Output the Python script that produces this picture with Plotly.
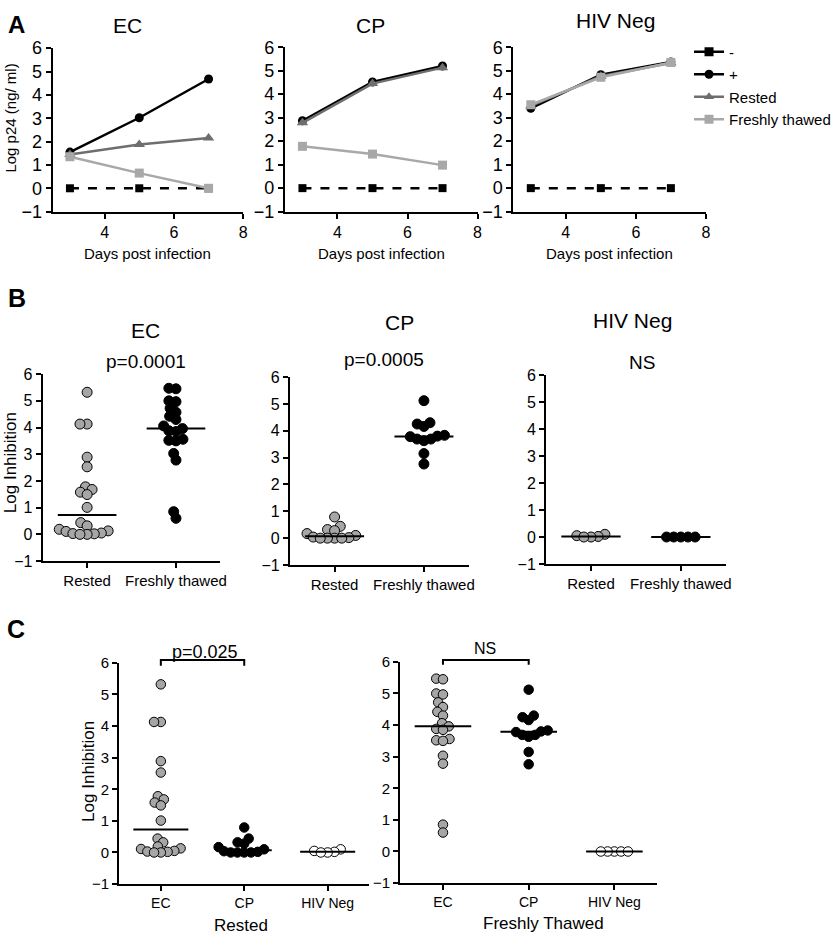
import numpy as np
import plotly.graph_objects as go

W, H = 837, 944
FONT = "Arial, Liberation Sans, sans-serif"

# panel A: log p24 (ng/ml) by day post infection
days = [3, 5, 7]
p24_ec_neg = [0, 0, 0]
p24_ec_pos = [1.55, 3.02, 4.68]
p24_ec_rested = [1.45, 1.87, 2.15]
p24_ec_thawed = [1.35, 0.65, 0.0]
p24_cp_neg = [0, 0, 0]
p24_cp_pos = [2.87, 4.52, 5.2]
p24_cp_rested = [2.78, 4.45, 5.13]
p24_cp_thawed = [1.78, 1.45, 0.98]
p24_hiv_neg = [0, 0, 0]
p24_hiv_pos = [3.4, 4.83, 5.37]
p24_hiv_rested = [3.5, 4.76, 5.33]
p24_hiv_thawed = [3.55, 4.72, 5.35]

# panels B and C: log inhibition per donor
inh_ec_rested = [5.32, 4.13, 4.13, 2.89, 2.53, 1.78, 1.68, 1.58, 1.49, 1.01,
                 0.44, 0.32, 0.19, 0.13, 0.11, 0.05, 0.03, 0.02, 0.0, 0.0]
inh_ec_thawed = [5.47, 5.45, 5.0, 4.97, 4.72, 4.57, 4.42, 4.3, 4.06, 3.96,
                 3.88, 3.85, 3.56, 3.52, 3.5, 3.03, 2.78, 0.85, 0.6]
inh_cp_rested = [0.79, 0.44, 0.32, 0.28, 0.17, 0.1, 0.04, 0.02, 0.0, 0.0, 0.0, 0.0]
inh_cp_thawed = [5.12, 4.3, 4.25, 4.16, 3.83, 3.8, 3.78, 3.69, 3.69, 3.63, 3.15, 2.76]
inh_neg_rested = [0.1, 0.05, 0.02, 0.0, 0.0]
inh_neg_thawed = [0.0, 0.0, 0.0, 0.0, 0.0]

treat_labels = ["Rested", "Freshly thawed"]
group_labels = ["EC", "CP", "HIV Neg"]

GRAY = "#a6a6a6"
DARK = "#6e6e6e"
LIGHT = "#a8a8a8"

# pixel boxes of the plot areas: left, right, top, bottom
boxes = {
    1: (53, 245, 39, 206), 2: (287, 481, 38, 206), 3: (517, 711, 38, 206),
    4: (43, 222, 372, 563), 5: (292, 472, 375, 567), 6: (550, 731, 373, 566),
    7: (120, 372, 667, 893), 8: (403, 662, 666, 892),
}


def ref(n):
    return ("x", "y") if n == 1 else (f"x{n}", f"y{n}")


def swarm(vals, sy, d):
    # simple beeswarm in pixel space (lowest values placed first), offsets in px
    vals = np.asarray(vals, float)
    offs = np.zeros(len(vals))
    placed = []
    for i in np.argsort(vals, kind="stable"):
        y = vals[i] * sy
        near = [(px, py) for px, py in placed if abs(py - y) < d]
        cands = [0.0]
        for px, py in near:
            dx = np.sqrt(d * d - (py - y) ** 2)
            cands += [px - dx, px + dx]
        cands.sort(key=lambda c: (round(abs(c), 3), c))
        for c in cands:
            if all((c - px) ** 2 + (y - py) ** 2 >= d * d - 1e-6 for px, py in near):
                offs[i] = c
                break
        placed.append((offs[i], y))
    return offs


fig = go.Figure()

# ---------- panel A
a_sets = [
    (1, p24_ec_neg, p24_ec_pos, p24_ec_rested, p24_ec_thawed),
    (2, p24_cp_neg, p24_cp_pos, p24_cp_rested, p24_cp_thawed),
    (3, p24_hiv_neg, p24_hiv_pos, p24_hiv_rested, p24_hiv_thawed),
]
for n, neg, pos, rest, thaw in a_sets:
    xa, ya = ref(n)
    styles = [
        (neg, "black", "square", 8, "dash"),
        (pos, "black", "circle", 9, "solid"),
        (rest, DARK, "triangle-up", 10, "solid"),
        (thaw, LIGHT, "square", 9, "solid"),
    ]
    for vals, col, sym, sz, dash in styles:
        fig.add_trace(go.Scatter(
            x=days, y=vals, mode="lines+markers", xaxis=xa, yaxis=ya,
            line=dict(color=col, width=2.5, dash=dash),
            marker=dict(color=col, symbol=sym, size=sz),
            showlegend=False, cliponaxis=False))

# legend entries (solid line samples as in the original)
for name, col, sym in [("-", "black", "square"), ("+", "black", "circle"),
                       ("Rested", DARK, "triangle-up"), ("Freshly thawed", LIGHT, "square")]:
    fig.add_trace(go.Scatter(
        x=[None], y=[None], mode="lines+markers", name=name,
        line=dict(color=col, width=2.5), marker=dict(color=col, symbol=sym, size=9)))


def dot_column(n, i, vals, fill, size):
    l, r, t, b = boxes[n]
    xa, ya = ref(n)
    ncat = 2 if n in (4, 5, 6) else 3
    px_cat = (r - l) / ncat
    sy = (b - t) / 7.0
    offs = swarm(vals, sy, size * 0.72)
    fig.add_trace(go.Scatter(
        x=i + offs / px_cat, y=vals, mode="markers", xaxis=xa, yaxis=ya,
        marker=dict(size=size, color=fill, line=dict(color="black", width=1)),
        showlegend=False, cliponaxis=False))
    med = float(np.median(vals))
    fig.add_trace(go.Scatter(
        x=[i - 0.33, i + 0.33], y=[med, med], mode="lines", xaxis=xa, yaxis=ya,
        line=dict(color="black", width=2), showlegend=False))


# ---------- panel B
dot_column(4, 0, inh_ec_rested, GRAY, 10)
dot_column(4, 1, inh_ec_thawed, "black", 10)
dot_column(5, 0, inh_cp_rested, GRAY, 10)
dot_column(5, 1, inh_cp_thawed, "black", 10)
dot_column(6, 0, inh_neg_rested, GRAY, 10)
dot_column(6, 1, inh_neg_thawed, "black", 10)

# ---------- panel C
dot_column(7, 0, inh_ec_rested, GRAY, 9.5)
dot_column(7, 1, inh_cp_rested, "black", 9.5)
dot_column(7, 2, inh_neg_rested, "white", 9.5)
dot_column(8, 0, inh_ec_thawed, GRAY, 9.5)
dot_column(8, 1, inh_cp_thawed, "black", 9.5)
dot_column(8, 2, inh_neg_thawed, "white", 9.5)

# ---------- axes
layout = {}
for n, (l, r, t, b) in boxes.items():
    xk = "xaxis" if n == 1 else f"xaxis{n}"
    yk = "yaxis" if n == 1 else f"yaxis{n}"
    xa, ya = ref(n)
    common = dict(showline=True, linecolor="black", linewidth=2, ticks="outside",
                  ticklen=5, tickwidth=2, tickcolor="black", showgrid=False,
                  zeroline=False, fixedrange=True)
    if n <= 3:
        xopt = dict(range=[2.5, 8], tickvals=[4, 6, 8], tickfont=dict(size=16))
        yfont = 18
    elif n <= 6:
        xopt = dict(range=[-0.5, 1.5], tickvals=[0, 1], ticktext=treat_labels,
                    tickfont=dict(size=15))
        yfont = 16
    else:
        xopt = dict(range=[-0.5, 2.5], tickvals=[0, 1, 2], ticktext=group_labels,
                    tickfont=dict(size=14))
        yfont = 15
    layout[xk] = dict(domain=[l / W, r / W], anchor=ya, **xopt, **common)
    layout[yk] = dict(domain=[1 - b / H, 1 - t / H], anchor=xa, range=[-1, 6],
                      dtick=1, tickfont=dict(size=yfont), **common)

annotations = []


def label(text, x, y, size, bold=False, angle=0):
    if bold:
        text = f"<b>{text}</b>"
    annotations.append(dict(text=text, x=x / W, y=1 - y / H, xref="paper", yref="paper",
                            xanchor="center", yanchor="middle", showarrow=False,
                            textangle=angle, font=dict(size=size, color="black")))


label("A", 17, 15, 24, bold=True)
label("EC", 128, 16, 21)
label("CP", 373, 16, 21)
label("HIV Neg", 620, 11, 21)
for n in (1, 2, 3):
    l, r, t, b = boxes[n]
    label("Days post infection", (l + r) / 2, 249, 15)
label("Log p24 (ng/ ml)", 11, 110, 15, angle=-90)

label("B", 17, 294, 25, bold=True)
label("EC", 147, 327, 21)
label("p=0.0001", 147, 359, 19)
label("CP", 402, 319, 21)
label("p=0.0005", 387, 357, 19)
label("HIV Neg", 637, 317, 21)
label("NS", 647, 360, 19)
label("Log Inhibition", 10, 462, 17, angle=-90)

label("C", 16, 632, 25, bold=True)
label("p=0.025", 206, 656, 18)
label("NS", 489, 652, 16)
label("Log Inhibition", 89, 778, 17, angle=-90)
label("Rested", 243, 935, 17)
label("Freshly Thawed", 547, 933, 17)


def cat_x(n, v):
    l, r, t, b = boxes[n]
    return (l + (v + 0.5) / 3.0 * (r - l)) / W


shapes = []
for n, top, leg in [(7, 664, 670), (8, 664, 669)]:
    x0, x1 = cat_x(n, 0), cat_x(n, 1)
    y0, y1 = 1 - leg / H, 1 - top / H
    shapes.append(dict(type="path", xref="paper", yref="paper",
                       path=f"M {x0} {y0} L {x0} {y1} L {x1} {y1} L {x1} {y0}",
                       line=dict(color="black", width=2)))

fig.update_layout(
    **layout,
    width=W, height=H,
    margin=dict(l=0, r=0, t=0, b=0),
    paper_bgcolor="white", plot_bgcolor="white",
    font=dict(family=FONT, color="black"),
    annotations=annotations, shapes=shapes,
    showlegend=True,
    legend=dict(x=694 / W, y=1 - 26 / H, xanchor="left", yanchor="top",
                font=dict(size=15), tracegroupgap=0, itemwidth=30,
                bgcolor="rgba(0,0,0,0)"),
)

# drop the browser's default 8px page margin so the figure sits at the window origin
fig.write_html("out.html", config={"displayModeBar": False},
               post_script="document.body.style.margin='0';")
